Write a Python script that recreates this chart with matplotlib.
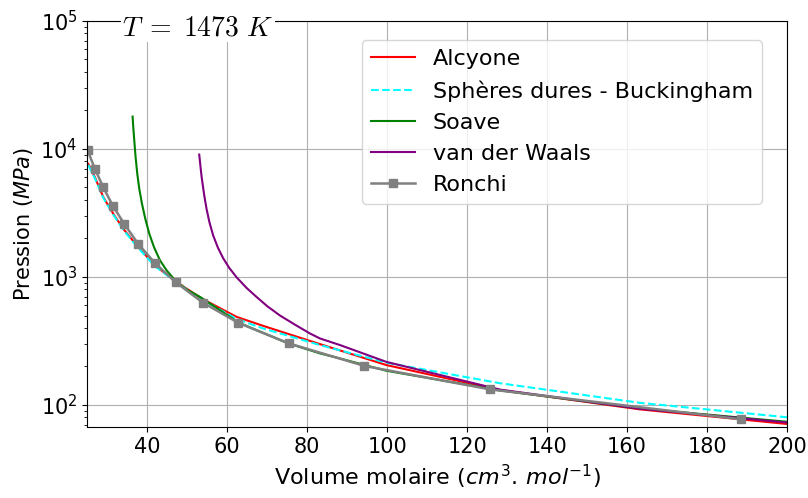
import numpy as np
import matplotlib
matplotlib.use('Agg')
import matplotlib.pyplot as plt

# Ronchi (points)
v_ronchi = [25.1, 26.9, 29.0, 31.4, 34.3, 37.7, 41.9, 47.1, 53.9, 62.8, 75.4, 94.3, 125.7, 188.5]
p_ronchi = [9730, 7000, 5020, 3600, 2580, 1820, 1285, 910, 631, 438, 303, 202, 132.5, 77.4]

# Alcyone
v_alc = [25.25, 26.9, 29.0, 31.5, 34.0, 37.35, 41.9, 47.35, 53.6, 62.35, 69.0, 83.2, 99.85, 128.2, 163.2, 200]
p_alc = [7660, 6030, 4210, 3120, 2380, 1770, 1230, 914, 679, 488, 415, 299, 205, 131, 92.5, 71.1]

# Spheres dures - Buckingham
v_sdb = [25.25, 26.9, 29.0, 31.5, 34.0, 37.35, 41.9, 47.35, 53.6, 62.35, 69.0, 83.2, 99.85, 128.2, 163.2, 200]
p_sdb = [7500, 5900, 4150, 3070, 2340, 1740, 1215, 905, 670, 470, 396, 294, 214, 148, 104, 80.2]

# Soave
v_soave = [36.34, 36.51, 36.76, 37.09, 37.51, 38.01, 38.68, 39.51, 40.51, 41.68, 43.18, 44.84, 46.93,
           49.43, 53.18, 62.85, 75.25, 83.2, 88.2, 99.85, 128.2, 163.2, 200]
p_soave = [17890, 14770, 11630, 8620, 6390, 4886, 3733, 2851, 2179, 1714, 1350, 1128, 943,
           812, 699, 440, 303, 253, 231, 185, 130, 94, 74]

# van der Waals
v_vdw = [53.0, 53.3, 53.6, 54.3, 54.85, 55.55, 56.5, 57.7, 59.0, 60.5, 62.35, 64.9, 67.35, 70.05,
         73.2, 76.9, 80.7, 83.2, 88.2, 99.85, 128.2, 163.2, 200]
p_vdw = [9040, 7350, 6050, 4250, 3380, 2680, 2105, 1687, 1400, 1178, 994, 818, 698, 590,
         500, 425, 362, 331, 294, 217, 132, 93.6, 73]

fig = plt.figure(figsize=(8.08, 4.98), dpi=100)
ax = fig.add_subplot(111)
fig.subplots_adjust(left=0.108, right=0.974, top=0.958, bottom=0.142)

ax.plot(v_alc, p_alc, color='red', label='Alcyone')
ax.plot(v_sdb, p_sdb, color='cyan', linestyle='--', label='Sphères dures - Buckingham')
ax.plot(v_soave, p_soave, color='green', label='Soave')
ax.plot(v_vdw, p_vdw, color='purple', label='van der Waals')
ax.plot(v_ronchi, p_ronchi, color='gray', marker='s', markersize=6, linewidth=1.8, label='Ronchi')

ax.set_yscale('log')
ax.set_xlim(25, 200)
ax.set_ylim(67, 1e5)
ax.set_xticks(np.arange(40, 201, 20))
ax.grid(True, color='#b0b0b0', linewidth=0.8)
ax.tick_params(labelsize=15)

ax.set_xlabel('Volume molaire ($cm^3.\\,mol^{-1}$)', fontsize=16)
ax.set_ylabel('Pression ($MPa$)', fontsize=15)

ax.text(0.05, 0.985, r'$T\;=\;1473\ K$', transform=ax.transAxes, fontsize=20,
        math_fontfamily='cm', va='center', ha='left',
        bbox=dict(facecolor='white', edgecolor='none', pad=1))

ax.legend(loc='upper right', fontsize=16, bbox_to_anchor=(0.98, 0.98))

plt.savefig('out.png', dpi=100)
